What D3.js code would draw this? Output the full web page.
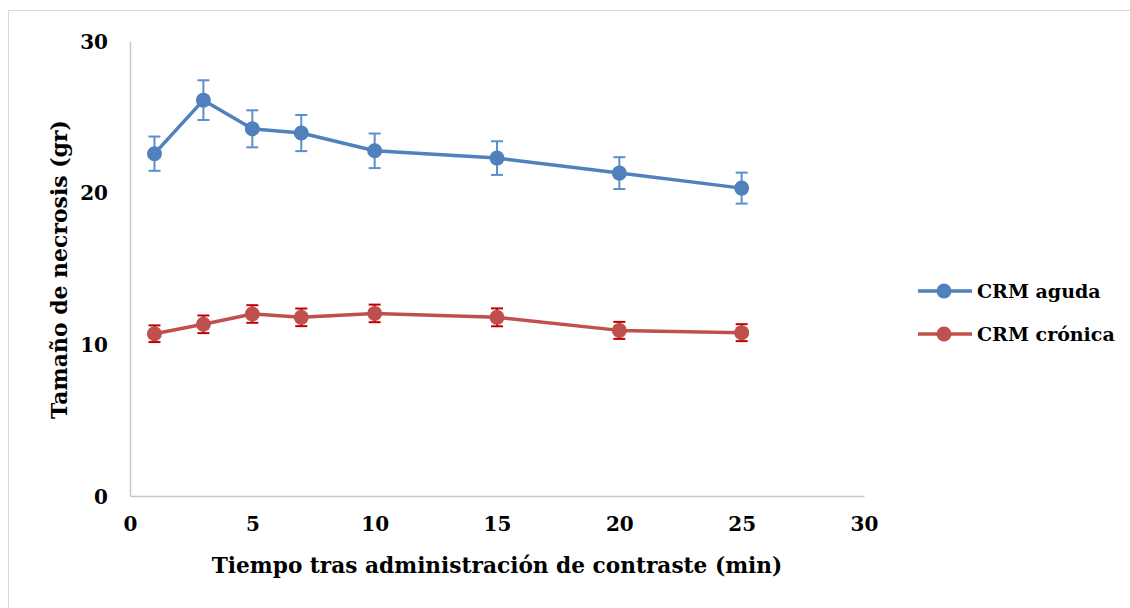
<!DOCTYPE html>
<html>
<head>
<meta charset="utf-8">
<script src="https://cdn.jsdelivr.net/npm/d3@7"></script>
<style>
  html, body { margin: 0; padding: 0; background: #fff; }
  svg { display: block; }
  text { font-family: "DejaVu Serif", "Liberation Serif", serif; font-weight: bold; fill: #000; }
</style>
</head>
<body>
<svg id="chart" width="1130" height="608"></svg>
<script>
// Time points (min) and necrosis size (gr) per group
const timesMin = [1, 3, 5, 7, 10, 15, 20, 25];
const agudaValues = [22.57, 26.1, 24.21, 23.93, 22.76, 22.28, 21.29, 20.30];
const agudaErrors = [1.13, 1.31, 1.22, 1.19, 1.14, 1.11, 1.05, 1.02];
const cronicaValues = [10.70, 11.32, 12.0, 11.78, 12.04, 11.78, 10.92, 10.77];
const cronicaErrors = [0.55, 0.58, 0.58, 0.58, 0.58, 0.59, 0.56, 0.56];
const xTicks = [0, 5, 10, 15, 20, 25, 30];
const yTicks = [0, 10, 20, 30];
const seriesNames = ["CRM aguda", "CRM crónica"];

const series = [
  { name: seriesNames[0], values: agudaValues, errors: agudaErrors, color: "#4F81BD", errColor: "#5A8FD0" },
  { name: seriesNames[1], values: cronicaValues, errors: cronicaErrors, color: "#C0504D", errColor: "#C00000" }
];

const FONT = '"DejaVu Serif", "Liberation Serif", serif';
const svg = d3.select("#chart");

// outer chart frame
svg.append("rect")
  .attr("x", 8.5).attr("y", 10.5)
  .attr("width", 1130).attr("height", 620)
  .attr("fill", "#fff").attr("stroke", "#d9d9d9").attr("stroke-width", 1);

const plot = { left: 130, right: 864, top: 41, bottom: 496 };
const x = d3.scaleLinear().domain([0, 30]).range([plot.left, plot.right]);
const y = d3.scaleLinear().domain([0, 30]).range([plot.bottom, plot.top]);

// axes (no tick marks, light grey baseline)
const xAxis = svg.append("g")
  .attr("transform", `translate(0,${plot.bottom})`)
  .call(d3.axisBottom(x).tickValues(xTicks).tickSize(0).tickPadding(21));
const yAxis = svg.append("g")
  .attr("transform", `translate(${plot.left},0)`)
  .call(d3.axisLeft(y).tickValues(yTicks).tickSize(0).tickPadding(22));

[xAxis, yAxis].forEach(g => {
  g.select(".domain").attr("stroke", "#c8c8c8").attr("stroke-width", 1.5);
  g.selectAll("text")
    .attr("font-family", FONT)
    .attr("font-weight", "bold").attr("font-size", 20).attr("fill", "#000");
});
yAxis.selectAll("text").attr("dy", "0.35em");

// axis titles, sized to their spans
function fitText(sel, target) {
  const w = sel.node().getComputedTextLength();
  const fs = parseFloat(sel.attr("font-size"));
  sel.attr("font-size", fs * target / w);
}

const xTitle = svg.append("text")
  .attr("x", 497).attr("y", 573)
  .attr("text-anchor", "middle").attr("font-size", 21)
  .text("Tiempo tras administración de contraste (min)");
fitText(xTitle, 571);

const yTitle = svg.append("text")
  .attr("transform", `translate(67,${(plot.top + plot.bottom) / 2 + 1}) rotate(-90)`)
  .attr("text-anchor", "middle").attr("font-size", 21)
  .text("Tamaño de necrosis (gr)");
fitText(yTitle, 299);

const line = d3.line().x(d => x(d.t)).y(d => y(d.v));

series.forEach(s => {
  const pts = timesMin.map((t, i) => ({ t, v: s.values[i], e: s.errors[i] }));
  const g = svg.append("g");

  g.append("path").datum(pts)
    .attr("d", line).attr("fill", "none")
    .attr("stroke", s.color).attr("stroke-width", 3.5).attr("stroke-linejoin", "round");

  const eb = g.selectAll(".err").data(pts).enter().append("g");
  eb.append("line")
    .attr("x1", d => x(d.t)).attr("x2", d => x(d.t))
    .attr("y1", d => y(d.v + d.e)).attr("y2", d => y(d.v - d.e))
    .attr("stroke", s.errColor).attr("stroke-width", 2);
  [1, -1].forEach(sign => {
    eb.append("line")
      .attr("x1", d => x(d.t) - 6).attr("x2", d => x(d.t) + 6)
      .attr("y1", d => y(d.v + sign * d.e)).attr("y2", d => y(d.v + sign * d.e))
      .attr("stroke", s.errColor).attr("stroke-width", 2);
  });

  g.selectAll("circle").data(pts).enter().append("circle")
    .attr("cx", d => x(d.t)).attr("cy", d => y(d.v)).attr("r", 7.5)
    .attr("fill", s.color);
});

// legend
const legend = svg.append("g");
series.forEach((s, i) => {
  const ly = 291 + i * 43;
  legend.append("line")
    .attr("x1", 918).attr("x2", 972).attr("y1", ly).attr("y2", ly)
    .attr("stroke", s.color).attr("stroke-width", 3.5);
  legend.append("circle").attr("cx", 944).attr("cy", ly).attr("r", 7.5).attr("fill", s.color);
  legend.append("text")
    .attr("x", 977).attr("y", ly).attr("dy", "0.35em")
    .attr("font-size", 19).text(s.name);
});
</script>
</body>
</html>
